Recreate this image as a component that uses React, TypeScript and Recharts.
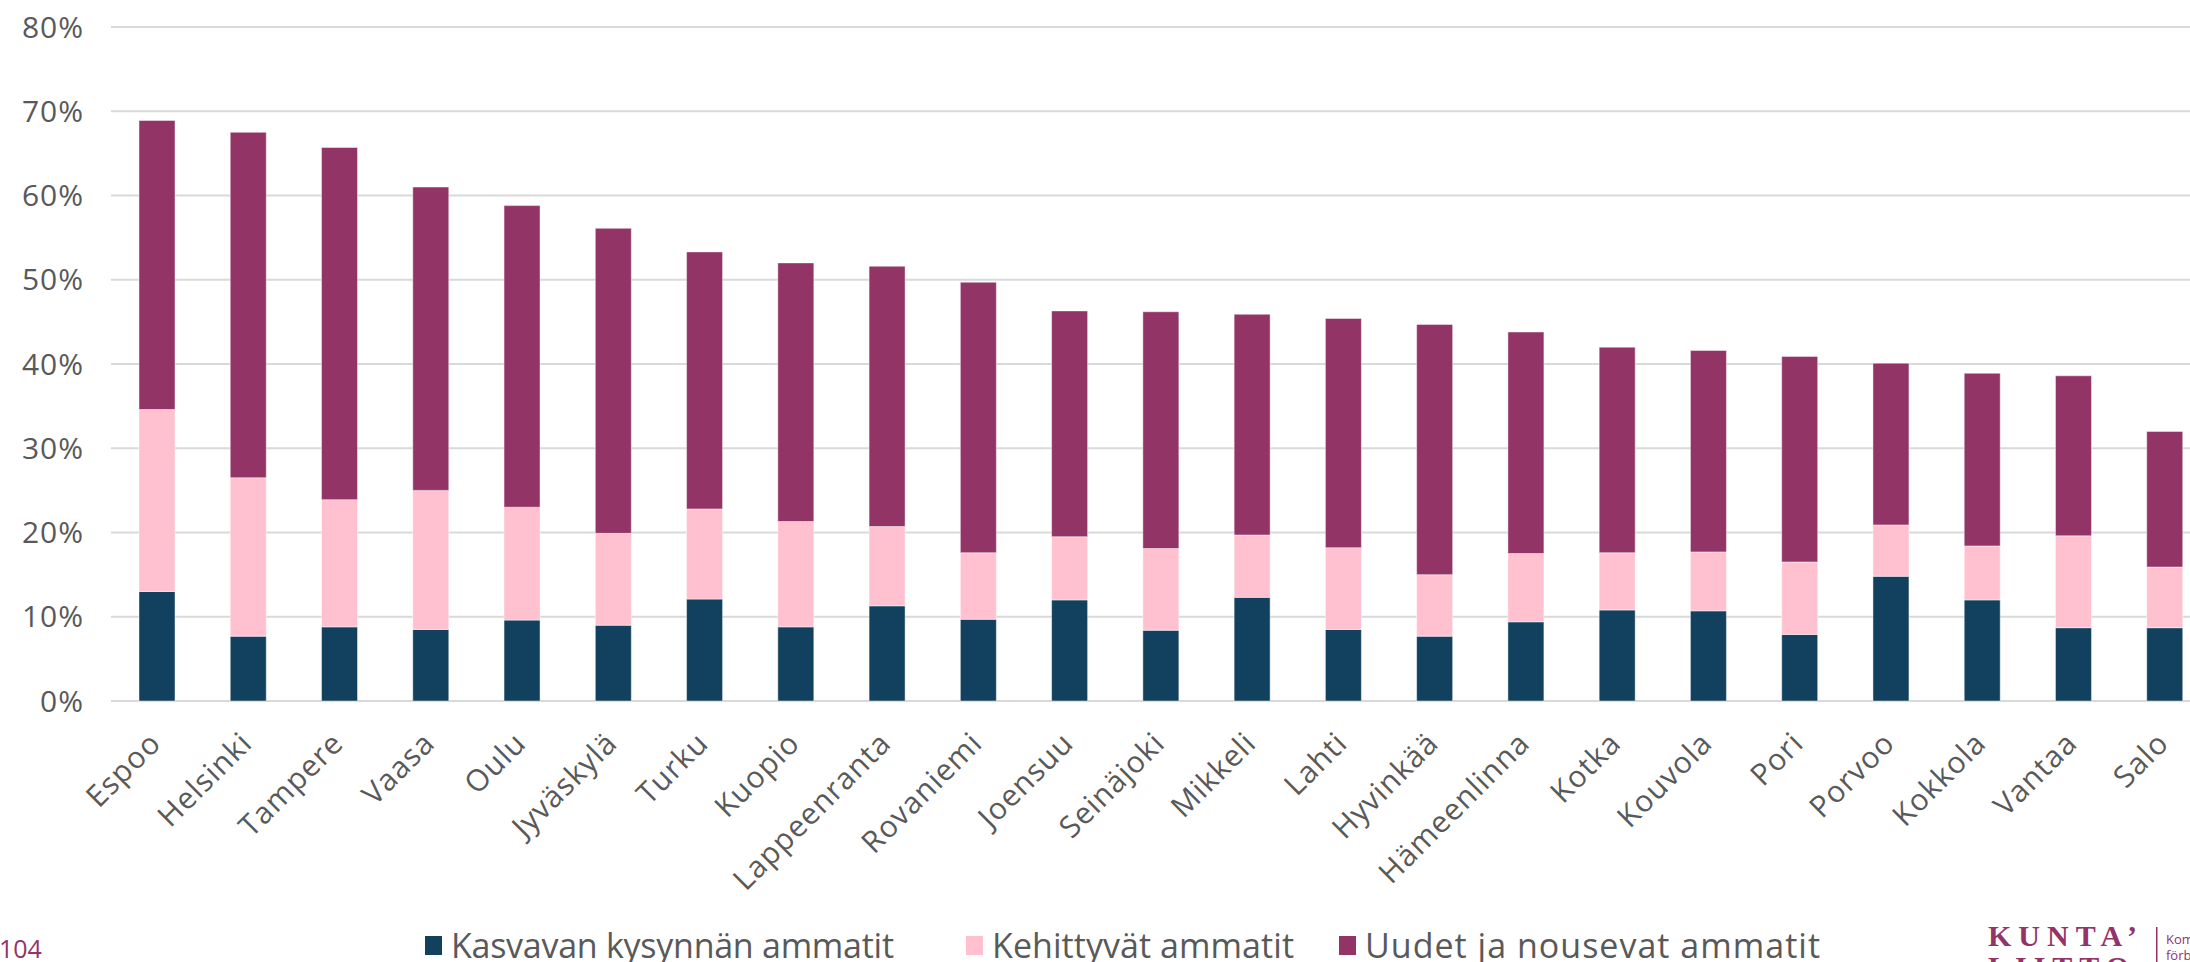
import { Bar, BarChart, CartesianGrid, XAxis, YAxis } from 'recharts';

// Osuudet (%) kaupungeittain, luettu kuvasta
const cities = [
  'Espoo', 'Helsinki', 'Tampere', 'Vaasa', 'Oulu', 'Jyväskylä', 'Turku', 'Kuopio',
  'Lappeenranta', 'Rovaniemi', 'Joensuu', 'Seinäjoki', 'Mikkeli', 'Lahti', 'Hyvinkää',
  'Hämeenlinna', 'Kotka', 'Kouvola', 'Pori', 'Porvoo', 'Kokkola', 'Vantaa', 'Salo',
];
const kasvavan = [
  13.0, 7.7, 8.8, 8.5, 9.6, 9.0, 12.1, 8.8, 11.3, 9.7, 12.0, 8.4, 12.3, 8.5, 7.7, 9.4,
  10.8, 10.7, 7.9, 14.8, 12.0, 8.7, 8.7,
];
const kehittyvat = [
  21.6, 18.8, 15.1, 16.5, 13.4, 10.9, 10.7, 12.5, 9.4, 7.9, 7.5, 9.7, 7.4, 9.7, 7.3, 8.1,
  6.8, 7.0, 8.6, 6.1, 6.4, 10.9, 7.2,
];
const uudet = [
  34.3, 41.0, 41.8, 36.0, 35.8, 36.2, 30.5, 30.7, 30.9, 32.1, 26.8, 28.1, 26.2, 27.2, 29.7,
  26.3, 24.4, 23.9, 24.4, 19.2, 20.5, 19.0, 16.1,
];
const yTicks = [0, 10, 20, 30, 40, 50, 60, 70, 80];

const series = [
  { key: 'kasvavan', name: 'Kasvavan kysynnän ammatit', color: '#12415f' },
  { key: 'kehittyvat', name: 'Kehittyvät ammatit', color: '#ffc0cf' },
  { key: 'uudet', name: 'Uudet ja nousevat ammatit', color: '#923466' },
];

const data = cities.map((city, i) => ({
  city,
  kasvavan: kasvavan[i],
  kehittyvat: kehittyvat[i],
  uudet: uudet[i],
}));

const FONT = '"Open Sans", sans-serif';
const TEXT = '#595959';
const BRAND = '#93336a';

// legendan sijainnit: ruutu x, tekstin leveys
const legendLayout = [
  { x: 425, w: 443 },
  { x: 966, w: 302 },
  { x: 1339, w: 455 },
];

function CityTick({ x, y, payload }: any) {
  const tx = x + 6;
  const ty = y + 44;
  return (
    <text
      x={tx}
      y={ty}
      transform={`rotate(-45, ${tx}, ${ty})`}
      textAnchor="end"
      fill={TEXT}
      fontSize={30}
      letterSpacing={1}
      fontFamily={FONT}
    >
      {payload.value}
    </text>
  );
}

export default function App() {
  return (
    <div
      style={{
        position: 'absolute',
        left: 0,
        top: 0,
        width: 2190,
        height: 962,
        overflow: 'hidden',
        background: '#fff',
        fontFamily: FONT,
      }}
    >
      <BarChart
        width={2210}
        height={962}
        data={data}
        margin={{ top: 27, right: 0, bottom: 0, left: 0 }}
      >
        <CartesianGrid vertical={false} stroke="#d9d9d9" strokeWidth={2} />
        <XAxis
          dataKey="city"
          interval={0}
          height={261}
          axisLine={false}
          tickLine={false}
          tickSize={0}
          tickMargin={0}
          tick={<CityTick />}
        />
        <YAxis
          width={111}
          domain={[0, 80]}
          ticks={yTicks}
          tickFormatter={(v) => `${v}%`}
          axisLine={false}
          tickLine={false}
          tickSize={0}
          tickMargin={27}
          tick={{ fill: TEXT, fontSize: 30, fontFamily: FONT, letterSpacing: 1 }}
        />
        {series.map((s) => (
          <Bar
            key={s.key}
            dataKey={s.key}
            name={s.name}
            stackId="a"
            fill={s.color}
            stroke="#ffffff"
            strokeOpacity={0.45}
            strokeWidth={1}
            barSize={36}
            isAnimationActive={false}
          />
        ))}
      </BarChart>

      <svg
        width={2190}
        height={962}
        style={{ position: 'absolute', left: 0, top: 0, pointerEvents: 'none' }}
      >
        <text x={-1} y={958} fill={BRAND} fontSize={25} fontFamily={FONT}>
          104
        </text>

        {series.map((s, i) => (
          <g key={s.key}>
            <rect x={legendLayout[i].x} y={936} width={17} height={19} fill={s.color} />
            <text
              x={legendLayout[i].x + 26}
              y={958}
              fill={TEXT}
              fontSize={34}
              fontFamily={FONT}
              textLength={legendLayout[i].w}
              lengthAdjust="spacing"
            >
              {s.name}
            </text>
          </g>
        ))}

        <text
          x={1988}
          y={946}
          fill={BRAND}
          fontSize={30}
          fontWeight="bold"
          fontFamily='"Liberation Serif", serif'
          letterSpacing={7}
        >
          KUNTA’
        </text>
        <text
          x={1988}
          y={977}
          fill={BRAND}
          fontSize={30}
          fontWeight="bold"
          fontFamily='"Liberation Serif", serif'
          letterSpacing={7}
        >
          LIITTO
        </text>
        <rect x={2156} y={927} width={1.5} height={35} fill={BRAND} />
        <text x={2166} y={944} fill={BRAND} fontSize={13} fontFamily={FONT}>
          Kommun-
        </text>
        <text x={2166} y={960} fill={BRAND} fontSize={13} fontFamily={FONT}>
          förbundet
        </text>
      </svg>
    </div>
  );
}
